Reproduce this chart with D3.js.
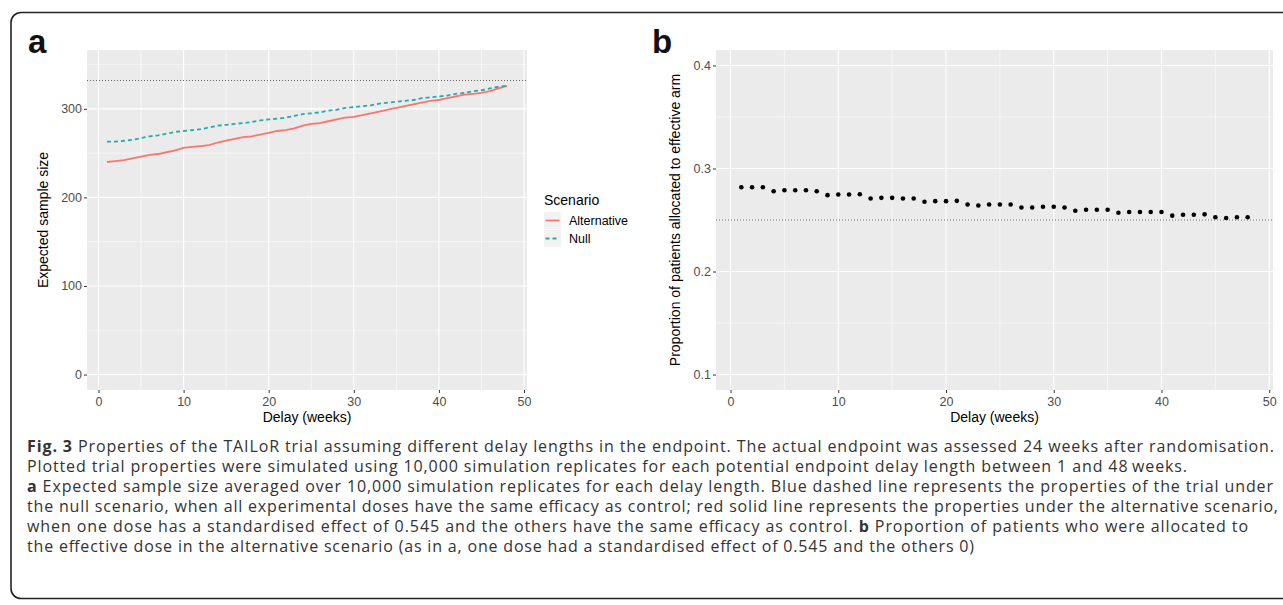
<!DOCTYPE html>
<html>
<head>
<meta charset="utf-8">
<script src="https://cdn.jsdelivr.net/npm/d3@7"></script>
<style>
  html, body { margin: 0; padding: 0; background: #fff; overflow: hidden; }
  svg { display: block; }
  svg text { font-family: "Liberation Sans", Arial, sans-serif; }
  .caption text { font-family: "Open Sans", "Noto Sans", sans-serif; }
</style>
</head>
<body>
<div class="chart"></div>
<script>
// DATA
var weeks = [1,2,3,4,5,6,7,8,9,10,11,12,13,14,15,16,17,18,19,20,21,22,23,24,
             25,26,27,28,29,30,31,32,33,34,35,36,37,38,39,40,41,42,43,44,45,46,47,48];
var altSize = [240,241,242,244,246,248,249,251,253,256,257,258,259,262,264,266,268,269,271,273,275,276,278,281,
               283,284,286,288,290,291,293,295,297,299,301,303,305,307,309,310,312,314,316,317,318,320,323,326];
var nullSize = [263,263,264,265,267,269,270,272,274,275,276,277,279,281,282,283,284,285,287,288,289,290,292,294,
                295,296,298,299,301,302,303,304,306,307,308,309,310,312,313,314,315,317,318,320,321,323,325,326];
var propEffective = [0.2818,0.2818,0.2818,0.2779,0.2789,0.2789,0.2789,0.2779,0.2741,0.2747,0.2747,0.2750,
                     0.2709,0.2715,0.2715,0.2709,0.2709,0.2677,0.2683,0.2683,0.2686,0.2651,0.2641,0.2651,
                     0.2651,0.2651,0.2622,0.2622,0.2628,0.2628,0.2622,0.2590,0.2600,0.2600,0.2600,0.2571,
                     0.2577,0.2577,0.2577,0.2577,0.2542,0.2551,0.2551,0.2555,0.2526,0.2519,0.2526,0.2526];
var maxSampleSize = 332;     // dotted reference line panel a
var equalAllocation = 0.25;  // dotted reference line panel b
var scenarios = ["Alternative", "Null"];
var scenarioColors = ["#F8766D", "#2aa9ac"];
var xTicks = [0, 10, 20, 30, 40, 50];
var yTicksA = [0, 100, 200, 300];
var yTicksB = [0.1, 0.2, 0.3, 0.4];
var captionLines = [
  [["Fig. 3", true], [" Properties of the TAILoR trial assuming different delay lengths in the endpoint. The actual endpoint was assessed 24 weeks after randomisation.", false]],
  [["Plotted trial properties were simulated using 10,000 simulation replicates for each potential endpoint delay length between 1 and 48\u2009weeks.", false]],
  [["a", true], [" Expected sample size averaged over 10,000 simulation replicates for each delay length. Blue dashed line represents the properties of the trial under", false]],
  [["the null scenario, when all experimental doses have the same efficacy as control; red solid line represents the properties under the alternative scenario,", false]],
  [["when one dose has a standardised effect of 0.545 and the others have the same efficacy as control. ", false], ["b", true], [" Proportion of patients who were allocated to", false]],
  [["the effective dose in the alternative scenario (as in a, one dose had a standardised effect of 0.545 and the others 0)", false]]
];
var captionEnds = [1274, 1187, 1273, 1278, 1248, 974];

var W = 1283, H = 605;
var svg = d3.select(".chart").append("svg")
  .attr("width", W).attr("height", H);

svg.append("rect").attr("width", W).attr("height", H).attr("fill", "#fff");
// frame round the figure (its right side runs off the picture)
svg.append("rect")
  .attr("x", 11).attr("y", 12.5).attr("width", 1320).attr("height", 586)
  .attr("rx", 10).attr("ry", 10)
  .attr("fill", "none").attr("stroke", "#222").attr("stroke-width", 1.6);

// draws one ggplot-like panel and returns its scales
function drawPanel(cfg) {
  var x = d3.scaleLinear().domain([-1.35, 50.35]).range([cfg.left, cfg.right]);
  var y = d3.scaleLinear().domain(cfg.yDomain).range([390, 50]);
  var g = svg.append("g");

  g.append("rect")
    .attr("x", cfg.left).attr("y", 50)
    .attr("width", cfg.right - cfg.left).attr("height", 340)
    .attr("fill", "#EBEBEB");

  //minor grid
  g.selectAll(".xminor").data([5, 15, 25, 35, 45]).enter().append("line")
    .attr("x1", function (d) { return x(d); }).attr("x2", function (d) { return x(d); })
    .attr("y1", 50).attr("y2", 390)
    .style("stroke", "#fff").style("stroke-width", 0.55);
  g.selectAll(".yminor").data(cfg.yMinor).enter().append("line")
    .attr("y1", function (d) { return y(d); }).attr("y2", function (d) { return y(d); })
    .attr("x1", cfg.left).attr("x2", cfg.right)
    .style("stroke", "#fff").style("stroke-width", 0.55);
  //major grid
  g.selectAll(".xmajor").data(xTicks).enter().append("line")
    .attr("x1", function (d) { return x(d); }).attr("x2", function (d) { return x(d); })
    .attr("y1", 50).attr("y2", 390)
    .style("stroke", "#fff").style("stroke-width", 1.1);
  g.selectAll(".ymajor").data(cfg.yTicks).enter().append("line")
    .attr("y1", function (d) { return y(d); }).attr("y2", function (d) { return y(d); })
    .attr("x1", cfg.left).attr("x2", cfg.right)
    .style("stroke", "#fff").style("stroke-width", 1.1);

  // axes
  var xAxis = g.append("g").attr("transform", "translate(0,390)")
    .call(d3.axisBottom(x).tickValues(xTicks).tickSize(3).tickPadding(4));
  var yAxis = g.append("g").attr("transform", "translate(" + cfg.left + ",0)")
    .call(d3.axisLeft(y).tickValues(cfg.yTicks).tickFormat(cfg.yFormat).tickSize(3).tickPadding(2));
  [xAxis, yAxis].forEach(function (a) {
    a.select(".domain").remove();
    a.selectAll(".tick line").style("stroke", "#333").style("stroke-width", 1);
    a.selectAll(".tick text").style("font-size", "12.5px").style("fill", "#4D4D4D")
      .style("font-family", "Liberation Sans, Arial, sans-serif");
  });

  // titles
  g.append("text")
    .attr("x", (cfg.left + cfg.right) / 2).attr("y", 422)
    .attr("text-anchor", "middle").style("font-size", "14px").attr("fill", "#000")
    .text("Delay (weeks)");
  g.append("text")
    .attr("transform", "translate(" + cfg.yTitleX + ",220) rotate(-90)")
    .attr("text-anchor", "middle").style("font-size", "14px").attr("fill", "#000")
    .text(cfg.yTitle);
  g.append("text")
    .attr("x", cfg.tagX).attr("y", 53)
    .style("font-size", "33px").style("font-weight", "bold").attr("fill", "#111")
    .text(cfg.tag);

  return { x: x, y: y, g: g };
}

// PANEL A
var pa = drawPanel({
  left: 87, right: 527, yDomain: [-17.45, 366.45],
  yTicks: yTicksA, yMinor: [50, 150, 250, 350], yFormat: d3.format("d"),
  yTitle: "Expected sample size", yTitleX: 48, tag: "a", tagX: 28
});
pa.g.append("line")
  .attr("x1", 87).attr("x2", 527)
  .attr("y1", pa.y(maxSampleSize)).attr("y2", pa.y(maxSampleSize))
  .style("stroke", "#555").style("stroke-width", 0.9).style("stroke-dasharray", "1,2");

var lineA = d3.line()
  .x(function (d, i) { return pa.x(weeks[i]); })
  .y(function (d) { return pa.y(d); });
pa.g.append("path").datum(altSize)
  .attr("d", lineA).attr("fill", "none")
  .style("stroke", scenarioColors[0]).style("stroke-width", 1.8);
pa.g.append("path").datum(nullSize)
  .attr("d", lineA).attr("fill", "none")
  .style("stroke", scenarioColors[1]).style("stroke-width", 1.8)
  .style("stroke-dasharray", "4,3");

// legend
var legend = svg.append("g").attr("transform", "translate(544,0)");
legend.append("text").attr("x", 0).attr("y", 205)
  .style("font-size", "14px").attr("fill", "#000").text("Scenario");
var item = legend.selectAll(".item").data(scenarios).enter().append("g")
  .attr("transform", function (d, i) { return "translate(0," + (212 + i * 18) + ")"; });
item.append("rect").attr("width", 17).attr("height", 17).attr("fill", "#F2F2F2");
item.append("line")
  .attr("x1", 1.5).attr("x2", 15.5).attr("y1", 8.5).attr("y2", 8.5)
  .style("stroke", function (d, i) { return scenarioColors[i]; })
  .style("stroke-width", 1.8)
  .style("stroke-dasharray", function (d, i) { return i === 1 ? "4,3" : null; });
item.append("text").attr("x", 25).attr("y", 13)
  .style("font-size", "12.5px").attr("fill", "#000")
  .text(function (d) { return d; });

// PANEL B
var pb = drawPanel({
  left: 716, right: 1273, yDomain: [0.085, 0.415],
  yTicks: yTicksB, yMinor: [0.15, 0.25, 0.35], yFormat: d3.format(".1f"),
  yTitle: "Proportion of patients allocated to effective arm", yTitleX: 680, tag: "b", tagX: 652
});
pb.g.append("line")
  .attr("x1", 716).attr("x2", 1273)
  .attr("y1", pb.y(equalAllocation)).attr("y2", pb.y(equalAllocation))
  .style("stroke", "#555").style("stroke-width", 0.9).style("stroke-dasharray", "1,2");
pb.g.selectAll(".pt").data(propEffective).enter().append("circle")
  .attr("cx", function (d, i) { return pb.x(weeks[i]); })
  .attr("cy", function (d) { return pb.y(d); })
  .attr("r", 2.3).attr("fill", "#000");

// CAPTION
var cap = svg.append("g").attr("class", "caption");
captionLines.forEach(function (parts, i) {
  var t = cap.append("text")
    .attr("x", 27).attr("y", 452 + i * 20)
    .attr("textLength", captionEnds[i] - 27).attr("lengthAdjust", "spacing")
    .style("font-size", "16px").attr("fill", "#333");
  parts.forEach(function (p) {
    t.append("tspan").style("font-weight", p[1] ? "bold" : "normal").text(p[0]);
  });
});
</script>
</body>
</html>
